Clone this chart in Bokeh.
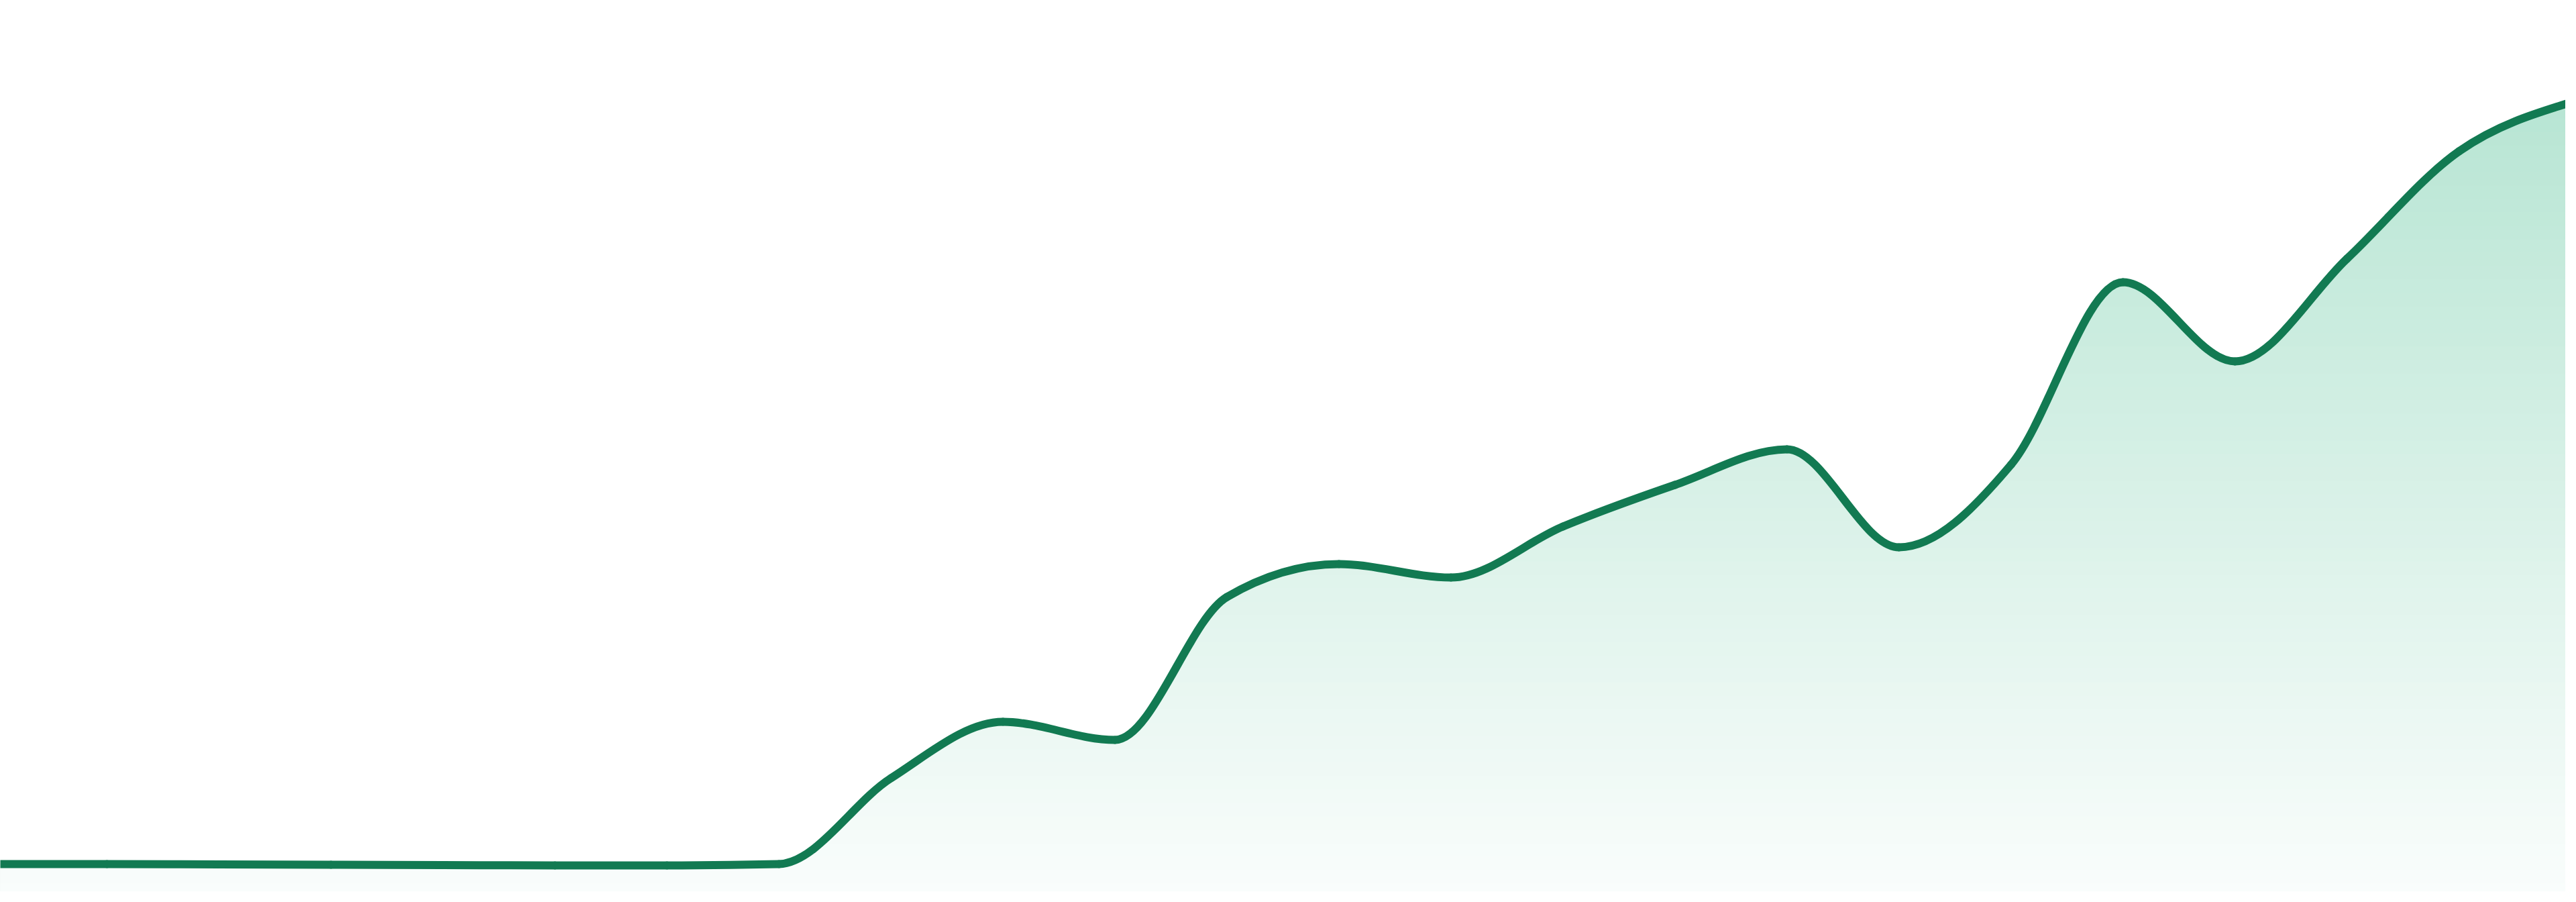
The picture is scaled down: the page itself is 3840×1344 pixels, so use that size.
import numpy as np
from bokeh.plotting import figure
from bokeh.models import Range1d
from bokeh.embed import file_html
from bokeh.resources import INLINE

# ---- data ----
days = list(range(24))
values = [4.9, 4.9, 4.85, 4.8, 4.75, 4.7, 4.7, 4.9, 17.7, 26.1, 23.4, 44.7,
          49.6, 47.6, 55.2, 61.4, 66.7, 52.1, 64.4, 91.6, 79.8, 95.1, 111.1, 118.4]

LINE_COLOR = "#127a52"
TOP_RGB = (183, 229, 211)     # gradient colour at value 119.4
BOTTOM_RGB = (250, 253, 252)  # gradient colour at value 0
TOP_V = 119.4


def monotone_tangents(x, y):
    x = np.asarray(x, float)
    y = np.asarray(y, float)
    n = len(x)
    h = np.diff(x)
    s = np.diff(y) / h
    t = np.zeros(n)
    for i in range(1, n - 1):
        s0, s1 = s[i - 1], s[i]
        p = (s0 * h[i] + s1 * h[i - 1]) / (h[i - 1] + h[i])
        t[i] = (np.sign(s0) + np.sign(s1)) * min(abs(s0), abs(s1), 0.5 * abs(p))
    t[0] = (3 * s[0] - t[1]) / 2
    t[-1] = (3 * s[-1] - t[-2]) / 2
    return t


xs = np.asarray(days, float)
ys = np.asarray(values, float)
tg = monotone_tangents(xs, ys)
dx = np.diff(xs) / 3.0
bx0, by0 = xs[:-1], ys[:-1]
bx1, by1 = xs[1:], ys[1:]
cx0, cy0 = bx0 + dx, by0 + dx * tg[:-1]
cx1, cy1 = bx1 - dx, by1 - dx * tg[1:]

# outline of the curve for the gradient area
tt = np.linspace(0, 1, 48)[:, None]
cx = ((1 - tt) ** 3 * bx0 + 3 * (1 - tt) ** 2 * tt * cx0 + 3 * (1 - tt) * tt ** 2 * cx1 + tt ** 3 * bx1)
cy = ((1 - tt) ** 3 * by0 + 3 * (1 - tt) ** 2 * tt * cy0 + 3 * (1 - tt) * tt ** 2 * cy1 + tt ** 3 * by1)
curve_x = cx.T.ravel()
curve_y = cy.T.ravel()

p = figure(width=3824, height=1328, output_backend="svg", toolbar_location=None,
           x_range=Range1d(0.048, 22.952), y_range=Range1d(0.8, 133.6),
           x_axis_type=None, y_axis_type=None, min_border=0,
           min_border_left=0, min_border_right=0, min_border_top=0, min_border_bottom=0)
p.grid.visible = False
p.outline_line_color = None
p.background_fill_color = "white"
p.border_fill_color = "white"

# vertical gradient: stacked areas, top band first
step = 2.0
nb = int(np.ceil(133.6 / step))
for k in range(nb - 1, -1, -1):
    hi = (k + 1) * step
    mid = (k + 0.5) * step
    f = min(max(mid / TOP_V, 0.0), 1.15)
    rgb = [int(round(BOTTOM_RGB[j] + (TOP_RGB[j] - BOTTOM_RGB[j]) * f)) for j in range(3)]
    rgb = [max(0, min(255, c)) for c in rgb]
    color = "#%02x%02x%02x" % tuple(rgb)
    p.varea(x=curve_x, y1=np.zeros_like(curve_y) - 5, y2=np.minimum(curve_y, hi),
            fill_color=color, fill_alpha=1.0)

p.bezier(x0=bx0, y0=by0, x1=bx1, y1=by1, cx0=cx0, cy0=cy0, cx1=cx1, cy1=cy1,
         line_color=LINE_COLOR, line_width=12, line_cap="round")

open("out.html", "w").write(file_html(p, INLINE))
